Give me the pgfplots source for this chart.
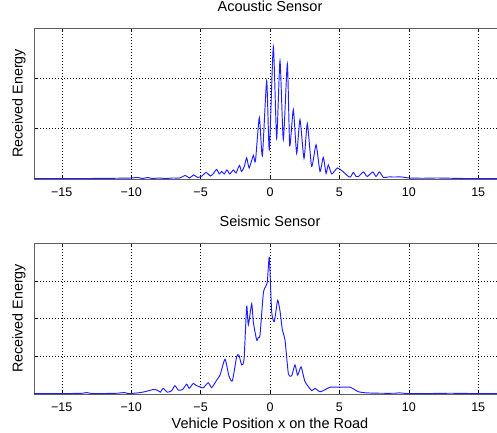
\documentclass[border=0pt]{standalone}
\usepackage{fontspec}
\setmainfont{Liberation Sans}
\usepackage{pgfplots}
\pgfplotsset{compat=1.18}
\usepackage{pgfplotstable}

\definecolor{traceblue}{RGB}{30,30,255}
\definecolor{frame}{RGB}{95,95,95}

% acoustic energy
\pgfplotstableread{
x y
-17 0.01
-15 0.01
-13 0.01
-11 0.015
-10 0.02
-9.5 0.03
-9.2 0.01
-8.8 0.03
-8.5 0.01
-8 0.02
-7.5 0.01
-7 0.02
-6.5 0.02
-6.1 0.07
-5.8 0.02
-5.5 0.08
-5.2 0.03
-4.9 0.06
-4.6 0.13
-4.3 0.06
-4.1 0.1
-3.85 0.19
-3.65 0.1
-3.48 0.15
-3.3 0.1
-3.1 0.18
-2.9 0.1
-2.64 0.18
-2.45 0.12
-2.2 0.27
-2.05 0.15
-1.85 0.25
-1.68 0.42
-1.5 0.22
-1.2 0.47
-1.05 0.35
-0.77 1.22
-0.55 0.46
-0.24 1.95
-0.05 0.58
0.24 2.63
0.48 0.81
0.72 2.35
0.96 0.78
1.25 2.29
1.42 0.66
1.68 1.38
1.92 0.51
2.16 1.18
2.45 0.41
2.69 1.1
3.0 0.25
3.32 0.68
3.6 0.15
3.84 0.43
4.04 0.11
4.2 0.28
4.45 0.1
4.85 0.22
5.2 0.16
5.6 0.06
5.8 0.04
6.0 0.13
6.2 0.05
6.37 0.05
6.73 0.14
7.0 0.05
7.4 0.14
7.64 0.05
7.88 0.14
8.17 0.03
8.5 0.04
9.0 0.04
9.5 0.04
10 0.02
11 0.015
12 0.02
13 0.015
14 0.01
15 0.01
17 0.005
}\acoustic

% seismic energy
\pgfplotstableread{
x y
-17 0.01
-15 0.01
-13.5 0.02
-13.2 0.04
-12.8 0.01
-11 0.02
-10.5 0.04
-10.2 0.01
-9.8 0.02
-9.3 0.04
-8.8 0.08
-8.4 0.12
-8.1 0.1
-7.9 0.05
-7.7 0.15
-7.4 0.05
-7.1 0.08
-6.85 0.22
-6.6 0.1
-6.3 0.12
-6.0 0.26
-5.82 0.15
-5.53 0.28
-5.3 0.22
-5.1 0.2
-4.82 0.16
-4.45 0.3
-4.2 0.17
-3.84 0.37
-3.6 0.5
-3.24 0.92
-2.96 0.48
-2.71 0.35
-2.4 0.99
-2.24 1.03
-2.04 0.77
-1.87 0.92
-1.68 2.32
-1.56 1.83
-1.32 2.39
-1.2 1.9
-0.96 1.43
-0.84 1.5
-0.72 1.56
-0.48 2.67
-0.31 2.85
-0.19 2.97
-0.05 3.62
0.12 2.18
0.31 1.92
0.55 2.48
0.72 2.2
0.89 1.7
1.08 1.43
1.32 0.55
1.56 0.48
1.8 0.77
1.99 0.5
2.24 0.72
2.52 0.33
3.0 0.09
3.24 0.15
3.6 0.06
4.0 0.12
4.33 0.18
5.05 0.18
5.77 0.18
6.37 0.06
6.97 0.03
7.93 0.02
9 0.02
9.3 0.03
10 0.01
11 0.01
13 0.02
15 0.01
17 0.01
}\seismic

\pgfplotsset{
  sensor/.style={
    scale only axis, width=472pt, height=151pt,
    anchor=south west,
    xmin=-17, xmax=17, ymin=0,
    xtick={-15,-10,-5,0,5,10,15},
    xticklabels={−15,−10,−5,0,5,10,15},
    yticklabels={},
    axis line style={draw=frame, line width=0.8pt},
    tick style={black, line width=0.5pt},
    major tick length=4pt,
    grid=major,
    major grid style={black, line width=0.5pt, dash pattern=on 0.8pt off 2.2pt},
    xticklabel style={font=\fontsize{12.5}{14}\selectfont, anchor=base, yshift=-17.5pt},
    title style={at={(0.5,1)}, anchor=base, yshift=10.7pt, font=\fontsize{14.5}{17}\selectfont},
    every axis y label/.style={at={(axis description cs:-0.032,0.5)}, rotate=90, anchor=center,
      font=\fontsize{14.3}{17}\selectfont},
    ylabel={Received Energy},
  },
  sig/.style={traceblue, line width=0.95pt, smooth, tension=0.35},
}

\begin{document}
\begin{tikzpicture}
\begin{axis}[sensor, at={(34pt,253pt)}, ymax=3, ytick={0,1,2,3},
  title={Acoustic Sensor}]
  \addplot[sig] table[x=x, y=y] {\acoustic};
\end{axis}
\begin{axis}[sensor, at={(34pt,38pt)}, ymax=4, ytick={0,1,2,3,4},
  title={Seismic Sensor},
  xlabel={Vehicle Position x on the Road},
  xlabel style={at={(axis description cs:0.5,0)}, anchor=base, yshift=-34pt,
    font=\fontsize{14.5}{17}\selectfont}]
  \addplot[sig] table[x=x, y=y] {\seismic};
\end{axis}
\pgfresetboundingbox
\path[use as bounding box] (0pt,0pt) rectangle (497pt,432pt);
\end{tikzpicture}
\end{document}
